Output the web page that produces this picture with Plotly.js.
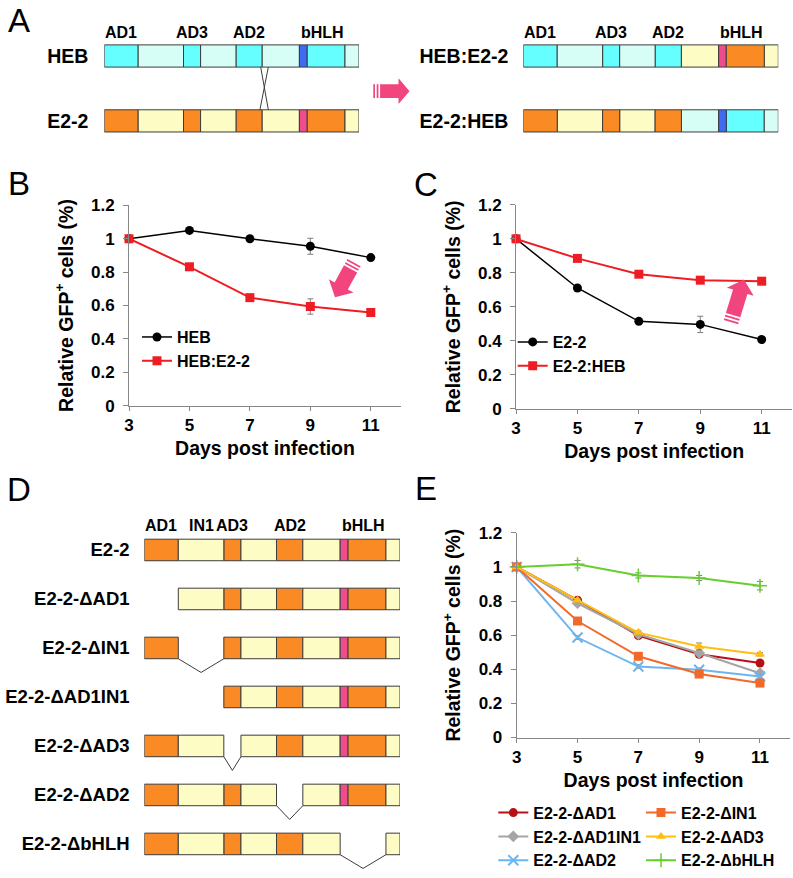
<!DOCTYPE html>
<html><head><meta charset="utf-8">
<script src="https://cdn.plot.ly/plotly-3.0.1.min.js"></script>
<style>html,body{margin:0;padding:0;background:#fff}</style>
</head><body><div id="chart" style="width:793px;height:878px"></div>
<script>
// ---------------- data ----------------
const days = [3, 5, 7, 9, 11];
const yTicks = [0, 0.2, 0.4, 0.6, 0.8, 1, 1.2];

// Panel B
const hebB = [1, 1.05, 1.0, 0.955, 0.887];
const hebErrB = [0, 0.008, 0.008, 0.048, 0.008];
const hebE22B = [1, 0.832, 0.647, 0.594, 0.558];
const hebE22ErrB = [0, 0.01, 0.01, 0.046, 0.01];

// Panel C
const e22C = [1, 0.711, 0.515, 0.497, 0.408];
const e22ErrC = [0, 0.01, 0.01, 0.048, 0.01];
const e22HebC = [1, 0.885, 0.792, 0.757, 0.751];
const e22HebErrC = [0, 0.01, 0.01, 0.01, 0.01];

// Panel E
const dAD1    = [1, 0.805, 0.597, 0.488, 0.437];
const dIN1    = [1, 0.683, 0.476, 0.372, 0.319];
const dAD1IN1 = [1, 0.787, 0.605, 0.495, 0.377];
const dAD3    = [1, 0.805, 0.615, 0.534, 0.488];
const dAD2    = [1, 0.586, 0.416, 0.397, 0.358];
const dbHLH   = [1, 1.016, 0.950, 0.935, 0.890];
const errAD1    = [0, 0.01, 0.01, 0.01, 0.01];
const errIN1    = [0, 0.01, 0.01, 0.01, 0.01];
const errAD1IN1 = [0, 0.01, 0.01, 0.01, 0.01];
const errAD3    = [0, 0.01, 0.01, 0.02, 0.01];
const errAD2    = [0, 0.01, 0.01, 0.01, 0.01];
const errbHLH   = [0, 0.022, 0.015, 0.015, 0.025];

// Domain maps (relative protein length, 0-100)
const segEdges = [0, 13.3, 31.1, 37.8, 51.7, 62, 76.6, 79.6, 94.5, 100];
const segKinds = ['AD', 'IN', 'AD', 'IN', 'AD', 'IN', 'basic', 'AD', 'IN'];
const rowsA1 = ['HEB', 'E2-2'];
const rowsA2 = ['HEB:E2-2', 'E2-2:HEB'];
const swapSegment = 5;
const crossTopX = [61.4, 64.4];
const crossBottomX = [64.4, 61.1];
const labelsA = ['AD1', 'AD3', 'AD2', 'bHLH'];
const labelSegsA = [[0], [2], [4], [6, 7]];
const constructsD = ['E2-2', 'E2-2-ΔAD1', 'E2-2-ΔIN1', 'E2-2-ΔAD1IN1', 'E2-2-ΔAD3', 'E2-2-ΔAD2', 'E2-2-ΔbHLH'];
const deletedD = [[], [0], [1], [0, 1], [2], [4], [6, 7]];
const labelsD = ['AD1', 'IN1', 'AD3', 'AD2', 'bHLH'];
const labelSegsD = [[0], [1], [2], [4], [6, 7]];

// ---------------- styles ----------------
const W = 793, H = 878;
const FONT = 'Liberation Sans, Arial, sans-serif';
const px = p => p / W;
const py = p => 1 - p / H;
const palette = {
  HEB: {AD: '#66FFFF', IN: '#D6FEF6', basic: '#3F6BF0'},
  E22: {AD: '#FA8A24', IN: '#FCFCC4', basic: '#EF4C8E'}
};
const PINK = '#F2457E';
const AXC = '#878787';

const traces = [];
const annotations = [];
const shapes = [];

// ---------- diagram helpers ----------
function addSegments(rows, xa, ya, barW) {
  const groups = {};
  rows.forEach(r => r.segs.forEach(sg => {
    if (!groups[sg.color]) groups[sg.color] = {x: [], base: [], y: []};
    groups[sg.color].x.push(sg.e - sg.s);
    groups[sg.color].base.push(sg.s);
    groups[sg.color].y.push(r.row);
  }));
  Object.keys(groups).forEach(c => {
    traces.push({type: 'bar', orientation: 'h', x: groups[c].x, base: groups[c].base, y: groups[c].y,
      width: barW, marker: {color: c, line: {color: '#3C3C3C', width: 1}},
      xaxis: xa, yaxis: ya, showlegend: false, hoverinfo: 'skip'});
  });
}
function segList(owners) {
  return segKinds.map((k, i) => ({s: segEdges[i], e: segEdges[i + 1], color: palette[owners[i]][k]}));
}
function addDomainLabels(labels, groups, xa, ya, yv) {
  labels.forEach((t, i) => {
    const g = groups[i];
    const c = (segEdges[g[0]] + segEdges[g[g.length - 1] + 1]) / 2;
    annotations.push({text: t, x: c, y: yv, xref: xa, yref: ya, showarrow: false,
      font: {family: FONT, size: 16, weight: 'bold', color: '#000'}, xanchor: 'center', yanchor: 'middle'});
  });
}

// Panel A left
const hebOwners = segKinds.map(() => 'HEB');
const e22Owners = segKinds.map(() => 'E22');
addSegments([{row: 0, segs: segList(hebOwners)}, {row: 1, segs: segList(e22Owners)}], 'x4', 'y4', 0.342);
addDomainLabels(labelsA, labelSegsA, 'x4', 'y4', -0.36);
[[crossTopX[0], crossBottomX[0]], [crossTopX[1], crossBottomX[1]]].forEach(xx => {
  traces.push({type: 'scatter', mode: 'lines', x: xx, y: [0.171, 0.829], xaxis: 'x4', yaxis: 'y4',
    line: {color: '#3C3C3C', width: 1}, showlegend: false, hoverinfo: 'skip'});
});
// Panel A right (chimeras)
const chimA = segKinds.map((k, i) => i < swapSegment ? 'HEB' : 'E22');
const chimB = segKinds.map((k, i) => i < swapSegment ? 'E22' : 'HEB');
addSegments([{row: 0, segs: segList(chimA)}, {row: 1, segs: segList(chimB)}], 'x5', 'y5', 0.342);
addDomainLabels(labelsA, labelSegsA, 'x5', 'y5', -0.36);

// Panel D
const hD = 0.22, dip = 0.28;
const rowsD = constructsD.map((n, r) => ({row: r, segs: segList(e22Owners).filter((s, i) => deletedD[r].indexOf(i) < 0)}));
addSegments(rowsD, 'x6', 'y6', 2 * hD);
addDomainLabels(labelsD, labelSegsD, 'x6', 'y6', -0.49);
deletedD.forEach((del, r) => {
  if (del.length && del[0] > 0) {
    const a = segEdges[del[0]], b = segEdges[del[del.length - 1] + 1];
    traces.push({type: 'scatter', mode: 'lines', x: [a, (a + b) / 2, b], y: [r + hD, r + hD + dip, r + hD],
      xaxis: 'x6', yaxis: 'y6', line: {color: '#3C3C3C', width: 1}, showlegend: false, hoverinfo: 'skip'});
  }
});

// ---------- line charts ----------
function series(y, err, name, color, symbol, xa, ya, leg, lw, msize, mline) {
  const m = {symbol: symbol, size: msize, color: color};
  if (mline) m.line = {color: color, width: mline};
  traces.push({type: 'scatter', mode: 'lines+markers', x: days, y: y, name: name,
    error_y: {type: 'data', array: err, visible: true, color: '#7F7F7F', thickness: 1, width: 3},
    line: {color: color, width: lw}, marker: m, xaxis: xa, yaxis: ya, legend: leg, cliponaxis: false});
}
series(hebB, hebErrB, 'HEB', '#000000', 'circle', 'x', 'y', 'legend', 1.5, 9);
series(hebE22B, hebE22ErrB, 'HEB:E2-2', '#EE1D23', 'square', 'x', 'y', 'legend', 2, 9);
series(e22C, e22ErrC, 'E2-2', '#000000', 'circle', 'x2', 'y2', 'legend2', 1.5, 9);
series(e22HebC, e22HebErrC, 'E2-2:HEB', '#EE1D23', 'square', 'x2', 'y2', 'legend2', 2, 9);
series(dAD1, errAD1, 'E2-2-ΔAD1', '#B80F15', 'circle', 'x3', 'y3', 'legend3', 2, 9);
series(dAD1IN1, errAD1IN1, 'E2-2-ΔAD1IN1', '#A5A5A5', 'diamond', 'x3', 'y3', 'legend3', 2, 9);
series(dAD2, errAD2, 'E2-2-ΔAD2', '#6DB5EE', 'x-thin', 'x3', 'y3', 'legend3', 2, 10, 2);
series(dIN1, errIN1, 'E2-2-ΔIN1', '#F26A2A', 'square', 'x3', 'y3', 'legend4', 2, 9);
series(dAD3, errAD3, 'E2-2-ΔAD3', '#FFBE10', 'triangle-up', 'x3', 'y3', 'legend4', 2, 9);
series(dbHLH, errbHLH, 'E2-2-ΔbHLH', '#66CF2E', 'cross-thin', 'x3', 'y3', 'legend4', 2, 10, 1.5);

// ---------- axes ----------
const tickFont = {family: FONT, size: 17, weight: 'bold', color: '#000'};
const titleFont = {family: FONT, size: 19.5, weight: 'bold', color: '#000'};
function xChart(x0, x1, anchor) {
  return {domain: [px(x0), px(x1)], range: [3, 12], tickvals: days, anchor: anchor, showline: true,
    linecolor: AXC, linewidth: 1, ticks: 'outside', ticklen: 4, tickcolor: AXC, tickfont: tickFont,
    showgrid: false, zeroline: false, title: {text: 'Days post infection', font: titleFont, standoff: 7}};
}
function yChart(yBottom, yTop, anchor) {
  return {domain: [py(yBottom), py(yTop)], range: [0, 1.2], tickvals: yTicks, anchor: anchor, showline: true,
    linecolor: AXC, linewidth: 1, ticks: 'outside', ticklen: 5, tickcolor: AXC, tickfont: tickFont,
    ticklabelstandoff: 5,
    showgrid: false, zeroline: false, title: {text: 'Relative GFP<sup>+</sup> cells (%)', font: titleFont, standoff: 12}};
}
function xDiag(x0, x1, anchor) {
  return {domain: [px(x0), px(x1)], range: [0, 100], anchor: anchor, visible: false, fixedrange: true};
}
function yDiag(yBottom, yTop, range, anchor, labels, len, fsize) {
  return {domain: [py(yBottom), py(yTop)], range: range, anchor: anchor, tickvals: labels.map((l, i) => i),
    ticktext: labels, ticks: 'outside', ticklen: len, tickcolor: 'rgba(0,0,0,0)', showline: false,
    showgrid: false, zeroline: false, tickfont: {family: FONT, size: fsize, weight: 'bold', color: '#000'}};
}

// ---------- pink arrows ----------
function addArrow(tail, tip, bodyW, headW, headL, s) {
  const dx = tip[0] - tail[0], dy = tip[1] - tail[1], L = Math.hypot(dx, dy);
  const ux = dx / L, uy = dy / L, vx = -uy, vy = ux;
  const P = (u, v) => [tail[0] + ux * u + vx * v, tail[1] + uy * u + vy * v];
  const poly = pts => 'M' + pts.map(p => px(p[0]).toFixed(5) + ',' + py(p[1]).toFixed(5)).join('L') + 'Z';
  const b = bodyW / 2, h = headW / 2;
  const paths = [];
  [[0, s], [2 * s, 3 * s]].forEach(([a, c]) => paths.push(poly([P(a, -b), P(c, -b), P(c, b), P(a, b)])));
  paths.push(poly([P(4 * s, -b), P(L - headL, -b), P(L - headL, -h), P(L, 0), P(L - headL, h), P(L - headL, b), P(4 * s, b)]));
  paths.forEach(p => shapes.push({type: 'path', xref: 'paper', yref: 'paper', path: p, fillcolor: PINK, line: {width: 0}}));
}
addArrow([373.3, 92], [409.5, 92], 14, 26, 11, 1.7);
addArrow([354, 265], [335, 300], 15, 28, 13, 1.8);
addArrow([731, 325], [744, 282], 15, 28, 13, 1.8);

// ---------- panel letters ----------
[['A', 18.5, 21], ['B', 18.5, 185], ['C', 425.5, 186], ['D', 18.5, 494], ['E', 426, 493]].forEach(l => {
  annotations.push({text: l[0], x: px(l[1]), y: py(l[2]), xref: 'paper', yref: 'paper', showarrow: false,
    xanchor: 'center', yanchor: 'middle', font: {family: FONT, size: 33, color: '#000'}});
});

const legFont = {family: FONT, size: 16, weight: 'bold', color: '#000'};
function leg(x, y) {
  return {x: px(x), xanchor: 'left', y: py(y), yanchor: 'top', bgcolor: 'rgba(0,0,0,0)', font: legFont,
    tracegroupgap: 0, borderwidth: 0};
}

const layout = {
  width: W, height: H, margin: {l: 0, r: 0, t: 0, b: 0}, paper_bgcolor: '#fff', plot_bgcolor: 'rgba(0,0,0,0)',
  font: {family: FONT, color: '#000'}, barmode: 'overlay', showlegend: true,
  xaxis: xChart(129, 401, 'y'), yaxis: yChart(409.3, 207.3, 'x'),
  xaxis2: xChart(516, 792.4, 'y2'), yaxis2: yChart(412.7, 206.7, 'x2'),
  xaxis3: xChart(516.7, 790.4, 'y3'), yaxis3: yChart(744.3, 537.7, 'x3'),
  xaxis4: xDiag(104.3, 359, 'y4'), yaxis4: yDiag(154.75, 23.75, [1.5, -0.5], 'x4', rowsA1, 11, 19.5),
  xaxis5: xDiag(523.3, 778.3, 'y5'), yaxis5: yDiag(154.75, 23.75, [1.5, -0.5], 'x5', rowsA2, 10, 19.5),
  xaxis6: xDiag(144.3, 400, 'y6'), yaxis6: yDiag(877.4, 530.3, [6.52, -0.5], 'x6', constructsD, 10, 18.5),
  legend: leg(137, 323), legend2: leg(512.7, 328), legend3: leg(493.3, 803), legend4: leg(641, 803),
  annotations: annotations, shapes: shapes
};
Plotly.newPlot('chart', traces, layout, {staticPlot: true});
</script></body></html>
